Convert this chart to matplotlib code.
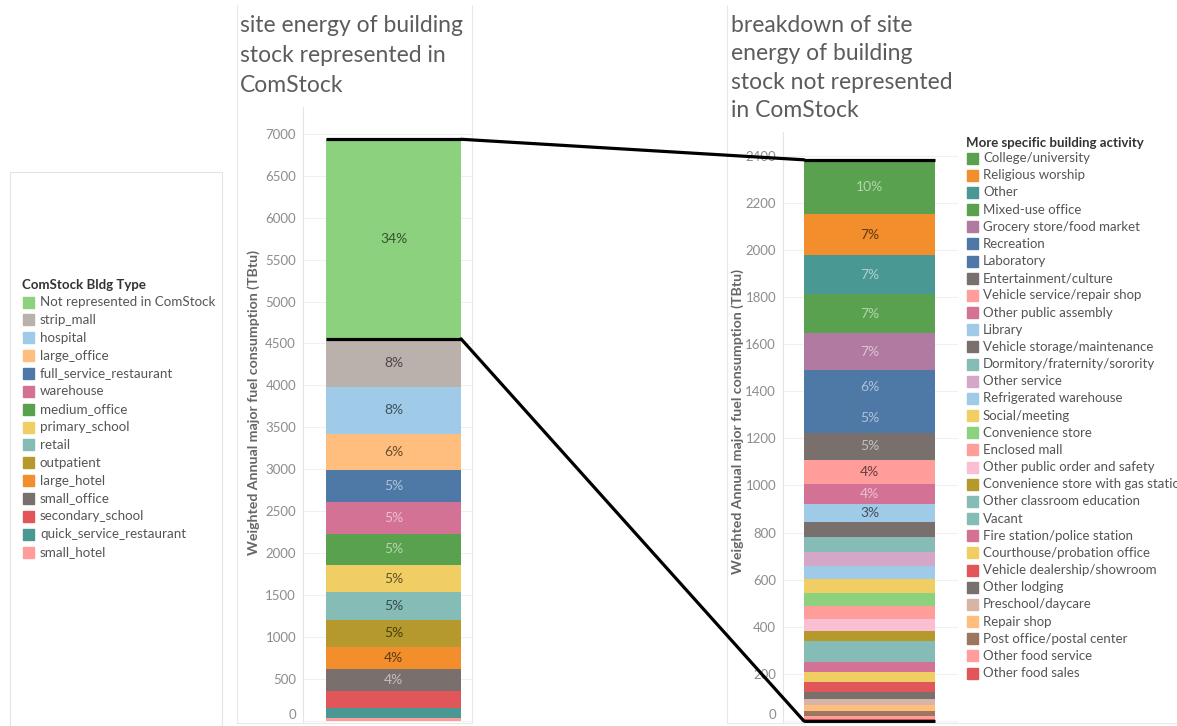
import numpy as np
import matplotlib.pyplot as plt
import matplotlib.colors as mcolors
from matplotlib.patches import Rectangle, ConnectionPatch
from matplotlib.lines import Line2D

plt.rcParams['font.family'] = ['Lato', 'DejaVu Sans']

W, H = 1177, 726

# left bar: ComStock building types (legend order, top of stack first)
bldg_types = ['Not represented in ComStock', 'strip_mall', 'hospital', 'large_office',
              'full_service_restaurant', 'warehouse', 'medium_office', 'primary_school',
              'retail', 'outpatient', 'large_hotel', 'small_office', 'secondary_school',
              'quick_service_restaurant', 'small_hotel']
bldg_energy = [2382, 575, 555, 440, 380, 375, 370, 330, 325, 330, 265, 255, 200, 120, 35]
bldg_colors = ['#8CD17D', '#BAB0AC', '#A0CBE8', '#FFBE7D', '#4E79A7', '#D37295', '#59A14F',
               '#F1CE63', '#86BCB6', '#B6992D', '#F28E2B', '#79706E', '#E15759', '#499894',
               '#FF9D9A']

# right bar: breakdown of the part not represented in ComStock
activities = ['College/university', 'Religious worship', 'Other', 'Mixed-use office',
              'Grocery store/food market', 'Recreation', 'Laboratory', 'Entertainment/culture',
              'Vehicle service/repair shop', 'Other public assembly', 'Library',
              'Vehicle storage/maintenance', 'Dormitory/fraternity/sorority', 'Other service',
              'Refrigerated warehouse', 'Social/meeting', 'Convenience store', 'Enclosed mall',
              'Other public order and safety', 'Convenience store with gas station',
              'Other classroom education', 'Vacant', 'Fire station/police station',
              'Courthouse/probation office', 'Vehicle dealership/showroom', 'Other lodging',
              'Preschool/daycare', 'Repair shop', 'Post office/postal center',
              'Other food service', 'Other food sales']
activity_energy = [230, 174, 167, 166, 156, 140, 125, 114, 103, 86, 75, 66, 63, 59, 57, 59,
                   54, 54, 51, 45, 47, 42, 42, 40, 43, 29, 28, 23, 21, 16, 7]
activity_colors = ['#59A14F', '#F28E2B', '#499894', '#59A14F', '#B07AA1', '#4E79A7', '#4E79A7',
                   '#79706E', '#FF9D9A', '#D37295', '#A0CBE8', '#79706E', '#86BCB6', '#D4A6C8',
                   '#A0CBE8', '#F1CE63', '#8CD17D', '#FF9D9A', '#FABFD2', '#B6992D', '#86BCB6',
                   '#86BCB6', '#D37295', '#F1CE63', '#E15759', '#79706E', '#D7B5A6', '#FFBE7D',
                   '#9D7660', '#FF9D9A', '#E15759']

left_ticks = np.arange(0, 7001, 500)
right_ticks = np.arange(0, 2401, 200)


def fx(px):
    return px / W


def fy(py):
    return 1 - py / H


def label_color(c):
    r, g, b = mcolors.to_rgb(c)
    lum = 0.299 * r + 0.587 * g + 0.114 * b
    rgb = np.array([r, g, b])
    if lum < 0.58:
        return tuple(rgb + (1 - rgb) * 0.55)
    return tuple(rgb * 0.4)


def stacked(ax, values, colors, min_pct):
    total = sum(values)
    bottom = 0
    for v, c in zip(values[::-1], colors[::-1]):
        ax.bar(0, v, bottom=bottom, width=1, color=c, linewidth=0)
        pct = v / total * 100
        if pct >= min_pct:
            ax.text(0, bottom + v / 2, f'{pct:.0f}%', ha='center', va='center',
                    fontsize=10, color=label_color(c))
        bottom += v
    return total


def style(ax, ticks):
    ax.set_yticks(ticks)
    ax.grid(axis='y', color='#f0f0f0', lw=0.8)
    ax.set_axisbelow(True)
    for s in ['top', 'right', 'bottom']:
        ax.spines[s].set_visible(False)
    ax.spines['left'].set_color('#e4e4e4')
    ax.tick_params(axis='y', length=0, labelsize=9.5, labelcolor='#8c8c8c', pad=5)
    ax.set_xticks([])
    ax.set_ylabel('Weighted Annual major fuel consumption (TBtu)', fontsize=10.2,
                  fontweight='bold', color='#666666')
    ax.get_yticklabels()[0].set_va('bottom')


fig = plt.figure(figsize=(W / 100, H / 100), dpi=100)

# left chart
axL = fig.add_axes([fx(303), fy(722), fx(472 - 303), (722 - 107) / H])
totL = stacked(axL, bldg_energy, bldg_colors, 3.5)
axL.set_xlim(-0.670, 0.581)
axL.set_ylim(-17, 7322)
style(axL, left_ticks)
axL.yaxis.set_label_coords(-0.255, 0.52)

# right chart
axR = fig.add_axes([fx(783), fy(723), fx(958 - 783), (723 - 132) / H])
totR = stacked(axR, activity_energy, activity_colors, 3.0)
axR.set_xlim(-0.660, 0.675)
axR.set_ylim(-8, 2500)
style(axR, right_ticks)
axR.yaxis.set_label_coords(-0.225, 0.51)

# connector lines between the two bars
rep = totL - bldg_energy[0]
kw = dict(color='black', lw=2.3, solid_capstyle='butt', clip_on=False, zorder=5)
axL.plot([-0.5, 0.5], [totL, totL], **kw)
axL.plot([-0.5, 0.5], [rep, rep], **kw)
axR.plot([-0.5, 0.5], [totR, totR], **kw)
axR.plot([-0.5, 0.5], [0, 0], **kw)
for ya, yb in [(totL, totR), (rep, 0)]:
    con = ConnectionPatch(xyA=(0.5, ya), coordsA=axL.transData,
                          xyB=(-0.5, yb), coordsB=axR.transData,
                          color='black', lw=2.3, zorder=5)
    fig.add_artist(con)

# pane borders
pane = '#e8e8e8'
for x0, x1 in [(237, 472), (727, 1177)]:
    fig.add_artist(Line2D([fx(x0), fx(x0)], [fy(5), fy(723)], color=pane, lw=0.8))
    fig.add_artist(Line2D([fx(x0), fx(x1)], [fy(723), fy(723)], color=pane, lw=0.8))
fig.add_artist(Line2D([fx(472), fx(472)], [fy(5), fy(723)], color=pane, lw=0.8))

# titles
fig.text(fx(240), fy(15), 'site energy of building\nstock represented in\nComStock',
         fontsize=16.5, color='#5c5c5c', va='top', ha='left', linespacing=1.53)
fig.text(fx(731), fy(15), 'breakdown of site\nenergy of building\nstock not represented\nin ComStock',
         fontsize=16.5, color='#5c5c5c', va='top', ha='left', linespacing=1.44)

# left legend
fig.add_artist(Rectangle((fx(10), fy(730)), fx(212), (730 - 172) / H, fill=False,
                         edgecolor='#e4e4e4', lw=0.8, transform=fig.transFigure))
fig.text(fx(22), fy(285), 'ComStock Bldg Type', fontsize=9.5, fontweight='bold',
         color='#333333', va='center')
for i, (name, c) in enumerate(zip(bldg_types, bldg_colors)):
    yc = 302 + i * 17.86
    fig.add_artist(Rectangle((fx(23), fy(yc + 5.5)), fx(11), 11 / H, color=c,
                             transform=fig.transFigure))
    fig.text(fx(40), fy(yc), name, fontsize=9.6, color='#555555', va='center')

# right legend (last long entry runs off the edge, as in the source)
fig.text(fx(966), fy(143), 'More specific building activity', fontsize=9.5,
         fontweight='bold', color='#333333', va='center')
for i, (name, c) in enumerate(zip(activities, activity_colors)):
    yc = 158 + i * 17.17
    fig.add_artist(Rectangle((fx(967), fy(yc + 5.5)), fx(11), 11 / H, color=c,
                             transform=fig.transFigure))
    fig.text(fx(983), fy(yc), name, fontsize=9.5, color='#555555', va='center')

fig.savefig('out.png', dpi=100)
